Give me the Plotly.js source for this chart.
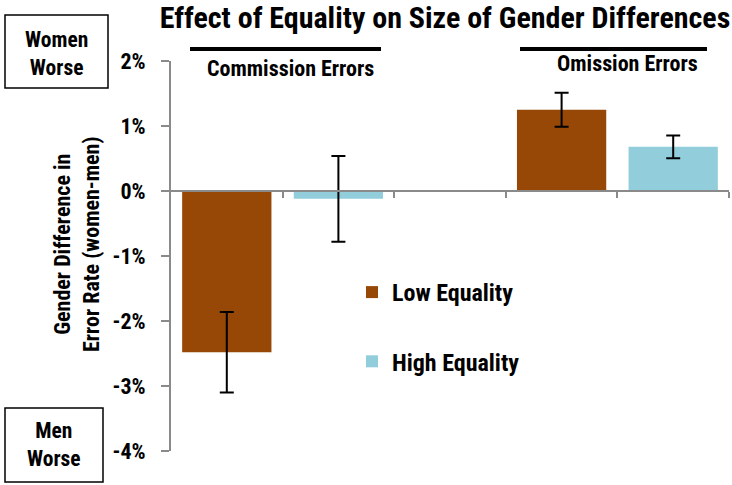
<!DOCTYPE html>
<html>
<head>
<meta charset="utf-8">
<script src="https://cdn.plot.ly/plotly-3.0.1.min.js"></script>
<style>
html,body{margin:0;padding:0;background:#fff;}
#chart{width:732px;height:485px;}
#chart text{font-stretch:condensed !important;}
</style>
</head>
<body>
<div id="chart"></div>
<script>
// ---- data ----
const groups = ['Commission Errors', 'Omission Errors'];
const seriesNames = ['Low Equality', 'High Equality'];
const lowEquality = [-2.48, 1.25];
const lowEqualityErr = [0.62, 0.26];
const highEquality = [-0.12, 0.68];
const highEqualityErr = [0.66, 0.175];
const yTickVals = [-4, -3, -2, -1, 0, 1, 2];
const yTickText = ['-4%', '-3%', '-2%', '-1%', '0%', '1%', '2%'];
const title = 'Effect of Equality on Size of Gender Differences';
const yTitle = 'Gender Difference in<br>Error Rate (women-men)';
const topBoxText = 'Women<br>Worse';
const bottomBoxText = 'Men<br>Worse';

// ---- layout helpers ----
const W = 732, H = 485;
const M = {l: 171, r: 3, t: 61, b: 34};
const PW = W - M.l - M.r, PH = H - M.t - M.b;
const px = x => (x - M.l) / PW;      // pixel -> paper x
const py = y => (H - M.b - y) / PH;  // pixel -> paper y

const FONT = '"Roboto Condensed", Roboto, sans-serif';
const BROWN = '#974706';
const BLUE = '#92CDDC';
const AXIS = '#8a8a8a';

const slotLow = groups.map((g, i) => i * 3 + 1);
const slotHigh = groups.map((g, i) => i * 3 + 2);

const errStyle = {type: 'data', visible: true, color: '#000', thickness: 2, width: 7};

const traces = [
  {type: 'bar', name: seriesNames[0], legendgroup: 'low', x: slotLow, y: lowEquality, width: 0.8,
   marker: {color: BROWN}, error_y: Object.assign({array: lowEqualityErr}, errStyle), hoverinfo: 'y'},
  {type: 'bar', name: seriesNames[1], legendgroup: 'high', x: slotHigh, y: highEquality, width: 0.8,
   marker: {color: BLUE}, error_y: Object.assign({array: highEqualityErr}, errStyle), hoverinfo: 'y'}
];

const groupLabelPos = [
  {line: [190, 381], textX: 290, textY: 68},
  {line: [520, 707], textX: 627, textY: 64}
];

const shapes = [
  {type: 'rect', xref: 'paper', yref: 'paper', x0: px(5), x1: px(108), y0: py(88), y1: py(15),
   line: {color: '#000', width: 1.5}, fillcolor: 'rgba(0,0,0,0)'},
  {type: 'rect', xref: 'paper', yref: 'paper', x0: px(5), x1: px(103), y0: py(482), y1: py(408),
   line: {color: '#000', width: 1.5}, fillcolor: 'rgba(0,0,0,0)'}
];
groupLabelPos.forEach(p => shapes.push({type: 'line', xref: 'paper', yref: 'paper',
  x0: px(p.line[0]), x1: px(p.line[1]), y0: py(49), y1: py(49), line: {color: '#000', width: 4}}));

const annotations = [
  {xref: 'paper', yref: 'paper', x: px(56), y: py(53), text: topBoxText, showarrow: false,
   font: {family: FONT, size: 21.5, color: '#000', weight: 'bold'}, xanchor: 'center', yanchor: 'middle'},
  {xref: 'paper', yref: 'paper', x: px(54), y: py(444), text: bottomBoxText, showarrow: false,
   font: {family: FONT, size: 21.5, color: '#000', weight: 'bold'}, xanchor: 'center', yanchor: 'middle'},
  {xref: 'paper', yref: 'paper', x: px(77), y: py(244), text: yTitle, showarrow: false, textangle: -90,
   font: {family: FONT, size: 22, color: '#000', weight: 'bold'}, xanchor: 'center', yanchor: 'middle'}
];
groups.forEach((g, i) => annotations.push({xref: 'paper', yref: 'paper', x: px(groupLabelPos[i].textX),
  y: py(groupLabelPos[i].textY), text: g, showarrow: false,
  font: {family: FONT, size: 22, color: '#000', weight: 'bold'}, xanchor: 'center', yanchor: 'middle'}));

const layout = {
  width: W, height: H,
  margin: M,
  paper_bgcolor: '#fff', plot_bgcolor: '#fff',
  showlegend: true,
  title: {text: title, x: 445 / W, xanchor: 'center', y: 1 - 17 / H, yanchor: 'middle',
          font: {family: FONT, size: 30, color: '#000', weight: 'bold'}},
  xaxis: {range: [0.5, 5.5], anchor: 'free', position: 4 / 6, showgrid: false, zeroline: false,
          showline: true, linecolor: AXIS, linewidth: 2, ticks: 'outside', ticklen: 6, tickwidth: 2,
          tickcolor: AXIS, tickvals: [1.5, 2.5, 3.5, 4.5, 5.5], showticklabels: false, fixedrange: true},
  yaxis: {range: [-4, 2], tickvals: yTickVals, ticktext: yTickText, showgrid: false, zeroline: false,
          showline: true, linecolor: AXIS, linewidth: 2, ticks: 'outside', ticklen: 8, tickwidth: 2,
          tickcolor: AXIS, ticklabelstandoff: 11,
          tickfont: {family: FONT, size: 22, color: '#000', weight: 'bold'}, fixedrange: true},
  legend: {x: px(352), y: py(270), xanchor: 'left', yanchor: 'top', bgcolor: 'rgba(0,0,0,0)',
           tracegroupgap: 35, traceorder: 'grouped',
           font: {family: FONT, size: 24, color: '#000', weight: 'bold'}},
  shapes: shapes,
  annotations: annotations
};

Plotly.newPlot('chart', traces, layout, {displayModeBar: false, staticPlot: true});
</script>
</body>
</html>
